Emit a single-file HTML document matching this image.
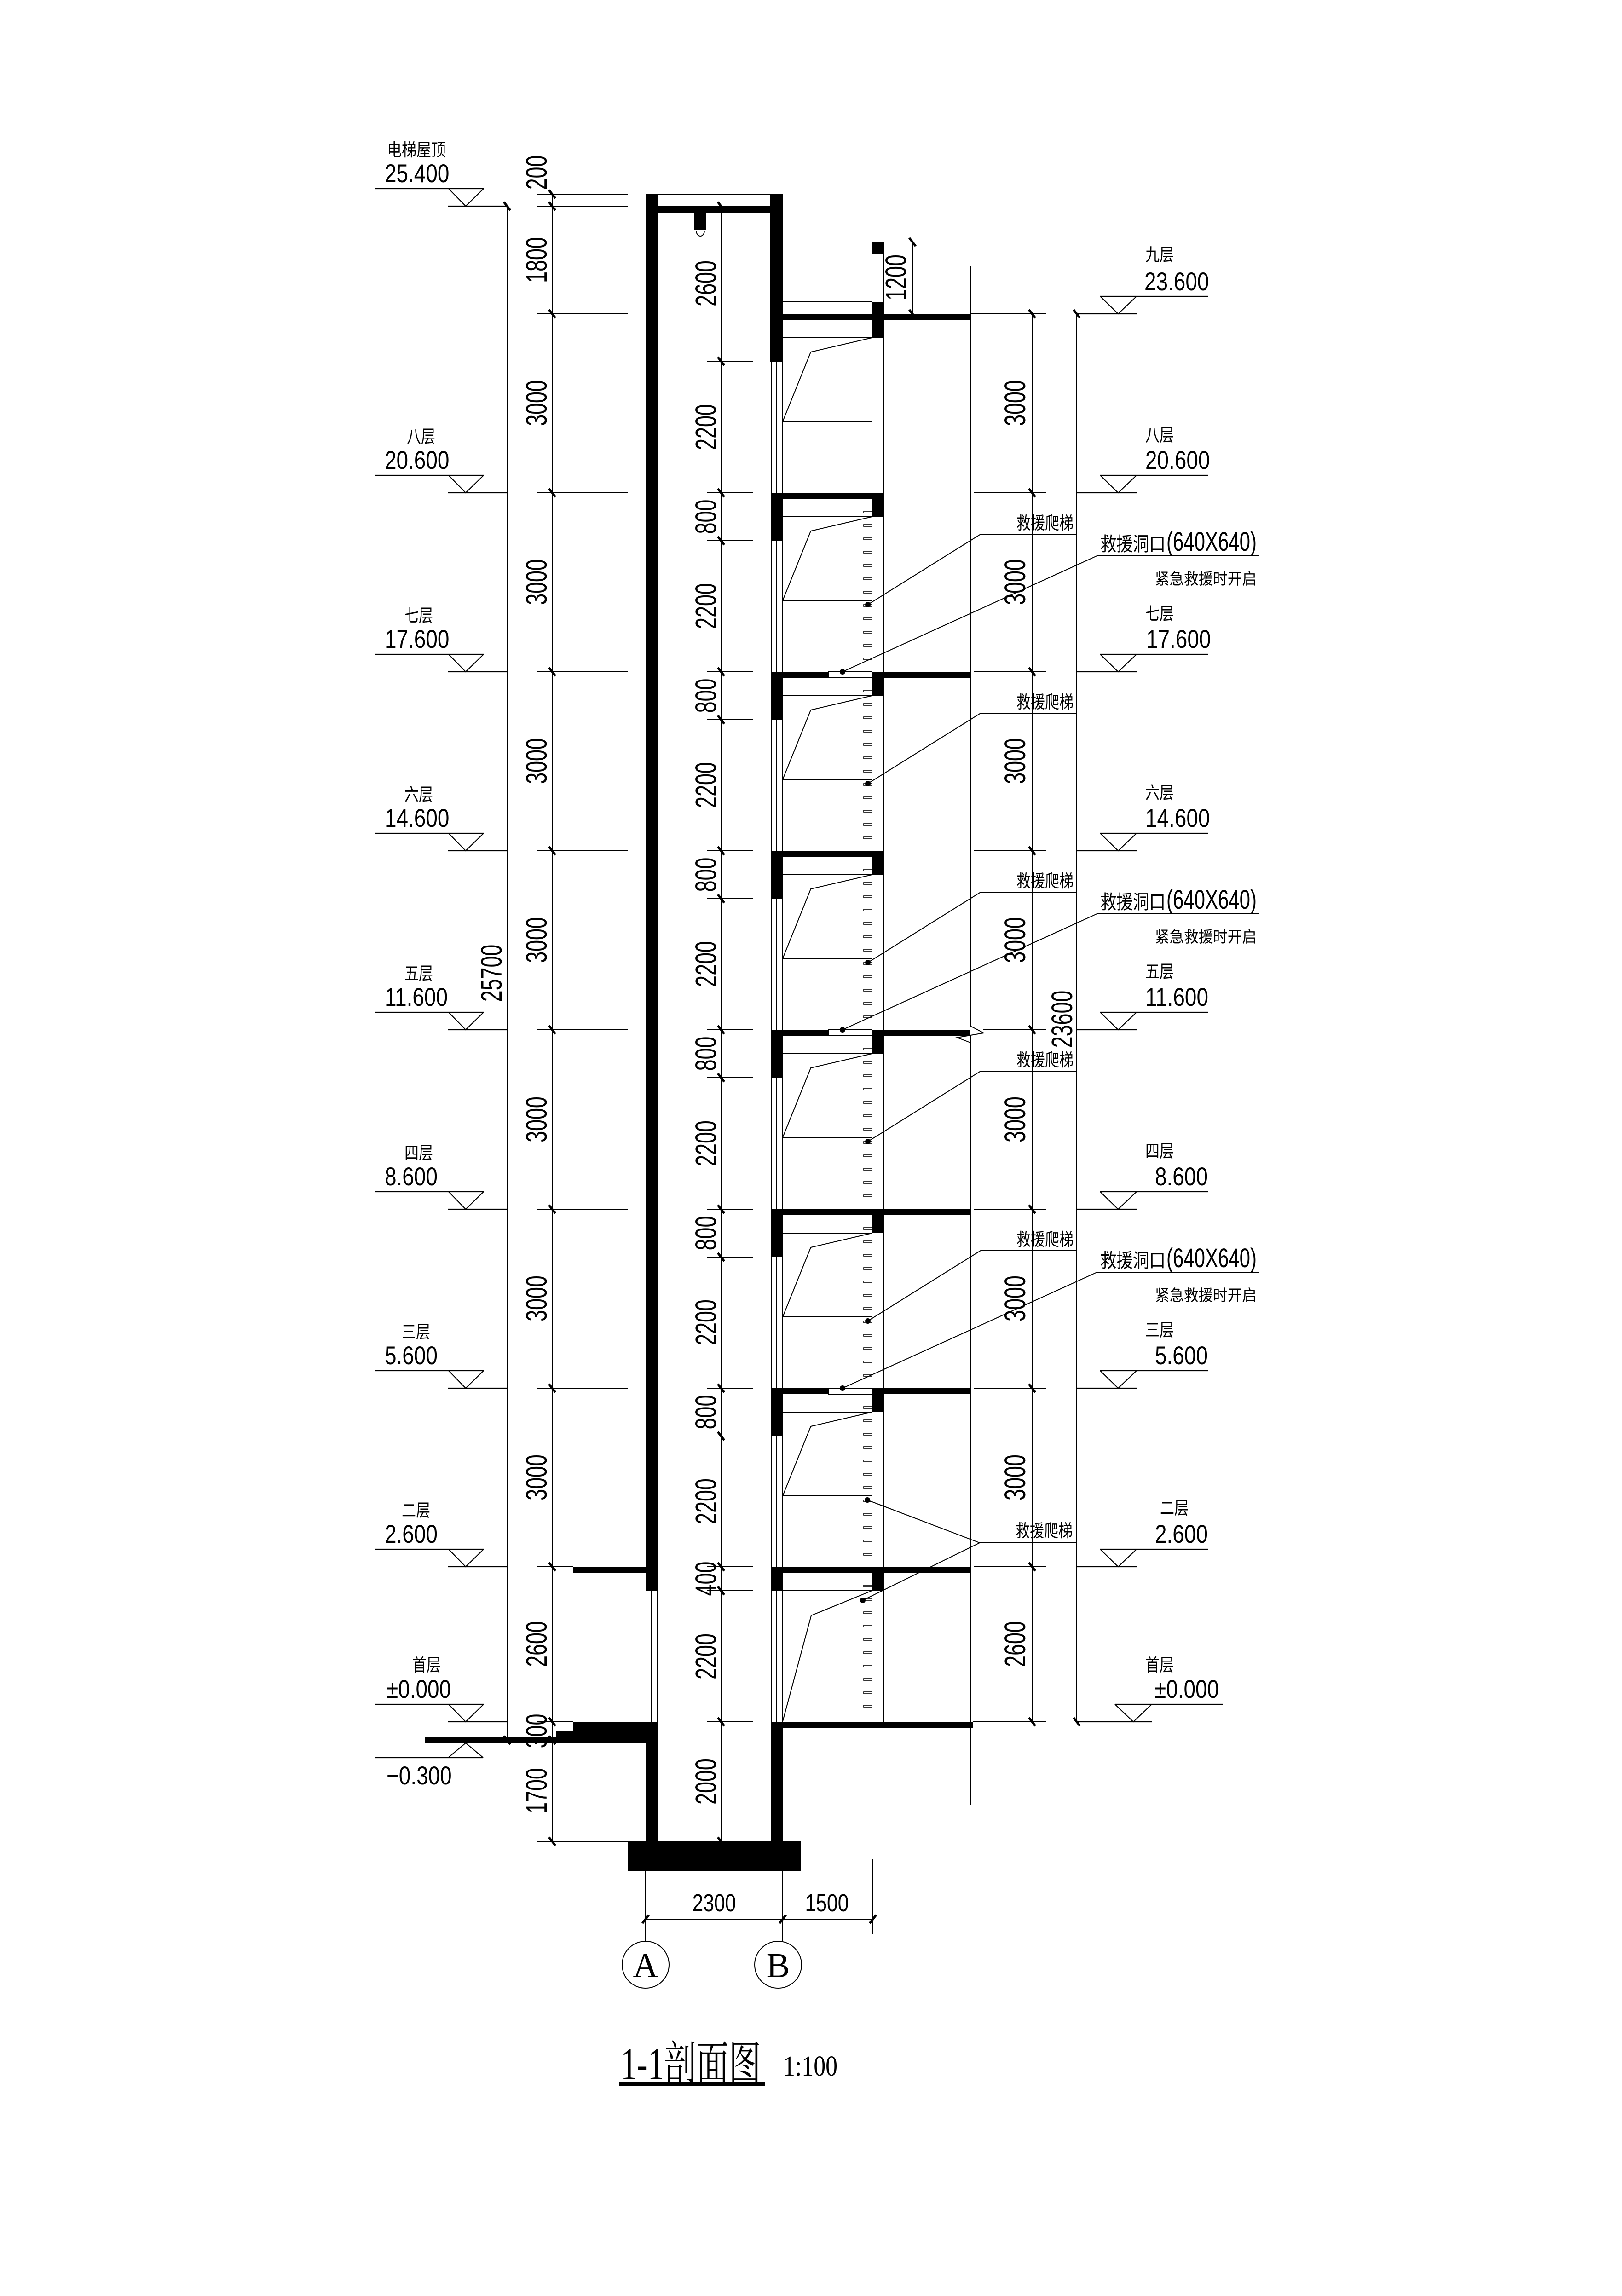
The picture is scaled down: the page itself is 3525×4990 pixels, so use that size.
<!DOCTYPE html>
<html><head><meta charset="utf-8"><style>html,body{margin:0;padding:0;background:#fff}svg{display:block}</style></head><body>
<svg width="3525" height="4990" viewBox="0 0 3525 4990" xmlns="http://www.w3.org/2000/svg">
<rect width="3525" height="4990" fill="#fff"/>
<defs>
<g id="tv"><line x1="-7" y1="-9" x2="7" y2="9" stroke="#000" stroke-width="5"/></g>
<g id="th"><line x1="-7" y1="9" x2="7" y2="-9" stroke="#000" stroke-width="5"/></g>
<g id="rung"><rect x="1877" y="0" width="18" height="4" fill="none" stroke="#000" stroke-width="1.6"/></g>
<g id="ladder">
<use href="#rung" y="40"/><use href="#rung" y="69"/><use href="#rung" y="98"/><use href="#rung" y="127"/><use href="#rung" y="156"/><use href="#rung" y="185"/><use href="#rung" y="214"/><use href="#rung" y="243"/><use href="#rung" y="272"/><use href="#rung" y="301"/><use href="#rung" y="330"/><use href="#rung" y="359"/>
</g>
<g id="win" fill="none" stroke="#000" stroke-width="2">
<line x1="1701" y1="52" x2="1895" y2="52"/><polyline points="1895,52 1762,83 1701,234"/><line x1="1701" y1="234" x2="1895" y2="234"/>
</g>
<g id="lsym" fill="none" stroke="#000" stroke-width="2.2">
<line x1="816" y1="-38" x2="1051" y2="-38"/><polyline points="975,-38 1012,0 1051,-38"/><line x1="973" y1="0" x2="1102" y2="0"/>
</g>
<g id="rsym" fill="none" stroke="#000" stroke-width="2.2">
<line x1="2391" y1="-38" x2="2626" y2="-38"/><polyline points="2391,-38 2430,0 2470,-38"/><line x1="2340" y1="0" x2="2470" y2="0"/>
</g>
</defs>

<g stroke="#000" stroke-width="2" fill="none">
<line x1="1102" y1="448" x2="1102" y2="3782"/>
<line x1="1200" y1="422" x2="1200" y2="4002"/>
<line x1="1567" y1="448" x2="1567" y2="4002"/>
<line x1="2243" y1="682" x2="2243" y2="3742"/>
<line x1="2340" y1="682" x2="2340" y2="3742"/>
<line x1="1983" y1="526" x2="1983" y2="682"/>
<line x1="1960" y1="526" x2="2013" y2="526"/>
<line x1="1168" y1="422" x2="1364" y2="422"/><line x1="1168" y1="448" x2="1364" y2="448"/>
<line x1="1168" y1="682" x2="1364" y2="682"/><line x1="1168" y1="1071" x2="1364" y2="1071"/>
<line x1="1168" y1="1460" x2="1364" y2="1460"/><line x1="1168" y1="1849" x2="1364" y2="1849"/>
<line x1="1168" y1="2238" x2="1364" y2="2238"/><line x1="1168" y1="2628" x2="1364" y2="2628"/>
<line x1="1168" y1="3017" x2="1364" y2="3017"/><line x1="1168" y1="3405" x2="1246" y2="3405"/>
<line x1="1168" y1="3742" x2="1246" y2="3742"/><line x1="1168" y1="4002" x2="1364" y2="4002"/>
<line x1="1536" y1="448" x2="1636" y2="448"/><line x1="1536" y1="785" x2="1636" y2="785"/>
<line x1="1536" y1="1071" x2="1636" y2="1071"/><line x1="1536" y1="1175" x2="1636" y2="1175"/>
<line x1="1536" y1="1460" x2="1636" y2="1460"/><line x1="1536" y1="1564" x2="1636" y2="1564"/>
<line x1="1536" y1="1849" x2="1636" y2="1849"/><line x1="1536" y1="1953" x2="1636" y2="1953"/>
<line x1="1536" y1="2238" x2="1636" y2="2238"/><line x1="1536" y1="2342" x2="1636" y2="2342"/>
<line x1="1536" y1="2628" x2="1636" y2="2628"/><line x1="1536" y1="2732" x2="1636" y2="2732"/>
<line x1="1536" y1="3017" x2="1636" y2="3017"/><line x1="1536" y1="3121" x2="1636" y2="3121"/>
<line x1="1536" y1="3405" x2="1636" y2="3405"/><line x1="1536" y1="3457" x2="1636" y2="3457"/>
<line x1="1536" y1="3742" x2="1636" y2="3742"/>
<line x1="2109" y1="682" x2="2273" y2="682"/><line x1="2116" y1="1071" x2="2273" y2="1071"/>
<line x1="2116" y1="1460" x2="2273" y2="1460"/><line x1="2116" y1="1849" x2="2273" y2="1849"/>
<line x1="2136" y1="2238" x2="2273" y2="2238"/><line x1="2116" y1="2628" x2="2273" y2="2628"/>
<line x1="2116" y1="3017" x2="2273" y2="3017"/><line x1="2116" y1="3405" x2="2273" y2="3405"/>
<line x1="2114" y1="3742" x2="2273" y2="3742"/>
<line x1="1676" y1="786" x2="1676" y2="3742"/><line x1="1688" y1="786" x2="1688" y2="3742"/><line x1="1701" y1="786" x2="1701" y2="3742"/>
<line x1="1404" y1="3457" x2="1404" y2="3742"/><line x1="1416" y1="3457" x2="1416" y2="3742"/><line x1="1429" y1="3457" x2="1429" y2="3742"/>
<line x1="1429" y1="422" x2="1429" y2="3457"/><line x1="1675" y1="422" x2="1675" y2="786"/>
<line x1="1404" y1="422" x2="1701" y2="422"/>
<path d="M1513,501 a9,12 0 0 0 18,0"/>
<line x1="1895" y1="553" x2="1895" y2="3742"/><line x1="1921" y1="553" x2="1921" y2="3742"/>
<line x1="1701" y1="656" x2="1896" y2="656"/>
<line x1="2109" y1="579" x2="2109" y2="3922"/>
<rect x="1800" y="1460" width="95" height="13"/><rect x="1800" y="2238" width="95" height="13"/><rect x="1800" y="3017" width="95" height="13"/>
<line x1="1403" y1="4067" x2="1403" y2="4219"/><line x1="1701" y1="4067" x2="1701" y2="4219"/>
<line x1="1403" y1="4171" x2="1897" y2="4171"/><line x1="1897" y1="4040" x2="1897" y2="4204"/>
<circle cx="1403" cy="4270" r="51"/><circle cx="1691" cy="4270" r="51"/>
</g>
<polyline points="2109,2230 2138,2245 2080,2255 2109,2266" fill="#fff" stroke="#000" stroke-width="2"/>

<use href="#win" y="682"/><use href="#win" y="1071"/><use href="#win" y="1460"/><use href="#win" y="1849"/><use href="#win" y="2238"/><use href="#win" y="2628"/><use href="#win" y="3017"/>
<g fill="none" stroke="#000" stroke-width="2"><line x1="1701" y1="3457" x2="1895" y2="3457"/><polyline points="1895,3457 1763,3511 1701,3741"/></g>
<use href="#ladder" y="1071"/><use href="#ladder" y="1460"/><use href="#ladder" y="1849"/><use href="#ladder" y="2238"/><use href="#ladder" y="2628"/><use href="#ladder" y="3017"/>
<use href="#rung" y="3445"/><use href="#rung" y="3474"/><use href="#rung" y="3503"/><use href="#rung" y="3532"/><use href="#rung" y="3561"/><use href="#rung" y="3590"/><use href="#rung" y="3619"/><use href="#rung" y="3648"/><use href="#rung" y="3677"/><use href="#rung" y="3706"/>

<g fill="#000">
<rect x="1403" y="422" width="26" height="3035"/>
<rect x="1403" y="3742" width="26" height="260"/>
<rect x="1675" y="422" width="26" height="364"/>
<rect x="1675" y="1071" width="26" height="104"/><rect x="1675" y="1460" width="26" height="104"/><rect x="1675" y="1849" width="26" height="104"/>
<rect x="1675" y="2238" width="26" height="104"/><rect x="1675" y="2628" width="26" height="104"/><rect x="1675" y="3017" width="26" height="104"/>
<rect x="1675" y="3405" width="26" height="52"/>
<rect x="1675" y="3742" width="26" height="260"/>
<rect x="1429" y="448" width="246" height="14"/>
<rect x="1508" y="462" width="27" height="38"/>
<rect x="1364" y="4002" width="377" height="65"/>
<rect x="1246" y="3405" width="157" height="14"/>
<rect x="1246" y="3742" width="157" height="20"/>
<rect x="1208" y="3761" width="195" height="20"/>
<rect x="923" y="3775" width="480" height="13"/>
<rect x="1896" y="526" width="26" height="27"/>
<rect x="1895" y="656" width="26" height="78"/>
<rect x="1701" y="682" width="408" height="13"/>
<rect x="1675" y="1071" width="246" height="13"/><rect x="1895" y="1071" width="26" height="52"/>
<rect x="1675" y="1460" width="125" height="13"/><rect x="1895" y="1460" width="214" height="13"/><rect x="1895" y="1460" width="26" height="52"/>
<rect x="1675" y="1849" width="246" height="13"/><rect x="1895" y="1849" width="26" height="52"/>
<rect x="1675" y="2238" width="125" height="13"/><rect x="1895" y="2238" width="214" height="13"/><rect x="1895" y="2238" width="26" height="52"/>
<rect x="1675" y="2628" width="434" height="13"/><rect x="1895" y="2628" width="26" height="52"/>
<rect x="1675" y="3017" width="125" height="13"/><rect x="1895" y="3017" width="214" height="13"/><rect x="1895" y="3017" width="26" height="52"/>
<rect x="1675" y="3405" width="434" height="13"/><rect x="1895" y="3405" width="26" height="52"/>
<rect x="1675" y="3742" width="439" height="13"/>
<rect x="1345" y="4525" width="317" height="9"/>
<circle cx="1886" cy="1314" r="6"/><circle cx="1886" cy="1703" r="6"/><circle cx="1886" cy="2092" r="6"/><circle cx="1886" cy="2481" r="6"/><circle cx="1886" cy="2871" r="6"/>
<circle cx="1885" cy="3260" r="6"/><circle cx="1875" cy="3478" r="6"/>
<circle cx="1831" cy="1460" r="6"/><circle cx="1831" cy="2238" r="6"/><circle cx="1831" cy="3017" r="6"/>
</g>

<g stroke="#000" stroke-width="2" fill="none">
<polyline points="2340,1161 2131,1161 1886,1314"/>
<polyline points="2340,1550 2131,1550 1886,1703"/>
<polyline points="2340,1939 2131,1939 1886,2092"/>
<polyline points="2340,2328 2131,2328 1886,2481"/>
<polyline points="2340,2718 2131,2718 1886,2871"/>
<polyline points="2341,3353 2129,3353 1885,3260"/><line x1="2129" y1="3353" x2="1875" y2="3478"/>
<polyline points="2737,1208 2384,1208 1831,1460"/>
<polyline points="2737,1986 2384,1986 1831,2238"/>
<polyline points="2737,2765 2384,2765 1831,3017"/>
</g>

<use href="#lsym" y="448"/><use href="#lsym" y="1071"/><use href="#lsym" y="1460"/><use href="#lsym" y="1849"/><use href="#lsym" y="2238"/><use href="#lsym" y="2628"/><use href="#lsym" y="3017"/><use href="#lsym" y="3405"/><use href="#lsym" y="3742"/>
<g fill="none" stroke="#000" stroke-width="2.2"><line x1="816" y1="3820" x2="1050" y2="3820"/><polyline points="974,3820 1012,3788 1050,3820"/></g>
<use href="#rsym" y="682"/><use href="#rsym" y="1071"/><use href="#rsym" y="1460"/><use href="#rsym" y="1849"/><use href="#rsym" y="2238"/><use href="#rsym" y="2628"/><use href="#rsym" y="3017"/><use href="#rsym" y="3405"/>
<g fill="none" stroke="#000" stroke-width="2.2"><line x1="2423" y1="3704" x2="2658" y2="3704"/><polyline points="2423,3704 2463,3742 2503,3704"/><line x1="2340" y1="3742" x2="2503" y2="3742"/></g>

<use href="#tv" x="1102" y="448"/><use href="#tv" x="1102" y="3782"/>
<use href="#tv" x="1200" y="422"/><use href="#tv" x="1200" y="448"/><use href="#tv" x="1200" y="682"/><use href="#tv" x="1200" y="1071"/><use href="#tv" x="1200" y="1460"/><use href="#tv" x="1200" y="1849"/><use href="#tv" x="1200" y="2238"/><use href="#tv" x="1200" y="2628"/><use href="#tv" x="1200" y="3017"/><use href="#tv" x="1200" y="3405"/><use href="#tv" x="1200" y="3742"/><use href="#tv" x="1200" y="3782"/><use href="#tv" x="1200" y="4002"/>
<use href="#tv" x="1567" y="448"/><use href="#tv" x="1567" y="785"/><use href="#tv" x="1567" y="1071"/><use href="#tv" x="1567" y="1175"/><use href="#tv" x="1567" y="1460"/><use href="#tv" x="1567" y="1564"/><use href="#tv" x="1567" y="1849"/><use href="#tv" x="1567" y="1953"/><use href="#tv" x="1567" y="2238"/><use href="#tv" x="1567" y="2342"/><use href="#tv" x="1567" y="2628"/><use href="#tv" x="1567" y="2732"/><use href="#tv" x="1567" y="3017"/><use href="#tv" x="1567" y="3121"/><use href="#tv" x="1567" y="3405"/><use href="#tv" x="1567" y="3457"/><use href="#tv" x="1567" y="3742"/><use href="#tv" x="1567" y="4002"/>
<use href="#tv" x="2243" y="682"/><use href="#tv" x="2243" y="1071"/><use href="#tv" x="2243" y="1460"/><use href="#tv" x="2243" y="1849"/><use href="#tv" x="2243" y="2238"/><use href="#tv" x="2243" y="2628"/><use href="#tv" x="2243" y="3017"/><use href="#tv" x="2243" y="3405"/><use href="#tv" x="2243" y="3742"/>
<use href="#tv" x="2340" y="682"/><use href="#tv" x="2340" y="3742"/>
<use href="#tv" x="1983" y="526"/><use href="#tv" x="1983" y="682"/>
<use href="#th" x="1403" y="4171"/><use href="#th" x="1701" y="4171"/><use href="#th" x="1897" y="4171"/>

<g font-family="Liberation Sans, sans-serif" font-size="64" text-anchor="middle" fill="#000">
<text transform="translate(1090,2115) rotate(-90) scale(0.7,1)">25700</text>
<text transform="translate(1188,375) rotate(-90) scale(0.7,1)">200</text>
<text transform="translate(1188,565) rotate(-90) scale(0.7,1)">1800</text>
<text transform="translate(1188,876) rotate(-90) scale(0.7,1)">3000</text>
<text transform="translate(1188,1265) rotate(-90) scale(0.7,1)">3000</text>
<text transform="translate(1188,1654) rotate(-90) scale(0.7,1)">3000</text>
<text transform="translate(1188,2043) rotate(-90) scale(0.7,1)">3000</text>
<text transform="translate(1188,2433) rotate(-90) scale(0.7,1)">3000</text>
<text transform="translate(1188,2822) rotate(-90) scale(0.7,1)">3000</text>
<text transform="translate(1188,3211) rotate(-90) scale(0.7,1)">3000</text>
<text transform="translate(1188,3573) rotate(-90) scale(0.7,1)">2600</text>
<text transform="translate(1188,3762) rotate(-90) scale(0.7,1)">300</text>
<text transform="translate(1188,3892) rotate(-90) scale(0.7,1)">1700</text>
<text transform="translate(1556,616) rotate(-90) scale(0.7,1)">2600</text>
<text transform="translate(1556,928) rotate(-90) scale(0.7,1)">2200</text>
<text transform="translate(1556,1123) rotate(-90) scale(0.7,1)">800</text>
<text transform="translate(1556,1317) rotate(-90) scale(0.7,1)">2200</text>
<text transform="translate(1556,1512) rotate(-90) scale(0.7,1)">800</text>
<text transform="translate(1556,1706) rotate(-90) scale(0.7,1)">2200</text>
<text transform="translate(1556,1901) rotate(-90) scale(0.7,1)">800</text>
<text transform="translate(1556,2095) rotate(-90) scale(0.7,1)">2200</text>
<text transform="translate(1556,2290) rotate(-90) scale(0.7,1)">800</text>
<text transform="translate(1556,2485) rotate(-90) scale(0.7,1)">2200</text>
<text transform="translate(1556,2680) rotate(-90) scale(0.7,1)">800</text>
<text transform="translate(1556,2874) rotate(-90) scale(0.7,1)">2200</text>
<text transform="translate(1556,3069) rotate(-90) scale(0.7,1)">800</text>
<text transform="translate(1556,3263) rotate(-90) scale(0.7,1)">2200</text>
<text transform="translate(1556,3431) rotate(-90) scale(0.7,1)">400</text>
<text transform="translate(1556,3600) rotate(-90) scale(0.7,1)">2200</text>
<text transform="translate(1556,3872) rotate(-90) scale(0.7,1)">2000</text>
<text transform="translate(2228,876) rotate(-90) scale(0.7,1)">3000</text>
<text transform="translate(2228,1265) rotate(-90) scale(0.7,1)">3000</text>
<text transform="translate(2228,1654) rotate(-90) scale(0.7,1)">3000</text>
<text transform="translate(2228,2043) rotate(-90) scale(0.7,1)">3000</text>
<text transform="translate(2228,2433) rotate(-90) scale(0.7,1)">3000</text>
<text transform="translate(2228,2822) rotate(-90) scale(0.7,1)">3000</text>
<text transform="translate(2228,3211) rotate(-90) scale(0.7,1)">3000</text>
<text transform="translate(2228,3573) rotate(-90) scale(0.7,1)">2600</text>
<text transform="translate(2330,2215) rotate(-90) scale(0.7,1)">23600</text>
<text transform="translate(1969,603) rotate(-90) scale(0.7,1)">1200</text>
<text x="1552" y="4154" font-size="54" textLength="95" lengthAdjust="spacingAndGlyphs">2300</text>
<text x="1797" y="4154" font-size="54" textLength="95" lengthAdjust="spacingAndGlyphs">1500</text>
</g>

<g font-family="Liberation Sans, sans-serif" font-size="56" fill="#000">
<text transform="translate(836,396) scale(0.82,1)">25.400</text>
<text transform="translate(836,1019) scale(0.82,1)">20.600</text>
<text transform="translate(836,1408) scale(0.82,1)">17.600</text>
<text transform="translate(836,1797) scale(0.82,1)">14.600</text>
<text transform="translate(836,2186) scale(0.82,1)">11.600</text>
<text transform="translate(836,2576) scale(0.82,1)">8.600</text>
<text transform="translate(836,2965) scale(0.82,1)">5.600</text>
<text transform="translate(836,3353) scale(0.82,1)">2.600</text>
<text transform="translate(840,3690) scale(0.82,1)">±0.000</text>
<text transform="translate(840,3878) scale(0.82,1)">−0.300</text>
<text transform="translate(2487,631) scale(0.82,1)">23.600</text>
<text transform="translate(2489,1019) scale(0.82,1)">20.600</text>
<text transform="translate(2491,1408) scale(0.82,1)">17.600</text>
<text transform="translate(2489,1797) scale(0.82,1)">14.600</text>
<text transform="translate(2489,2186) scale(0.82,1)">11.600</text>
<text transform="translate(2510,2576) scale(0.82,1)">8.600</text>
<text transform="translate(2510,2965) scale(0.82,1)">5.600</text>
<text transform="translate(2510,3353) scale(0.82,1)">2.600</text>
<text transform="translate(2509,3690) scale(0.82,1)">±0.000</text>
</g>

<g font-family="Liberation Sans, 'Noto Sans CJK SC', sans-serif" font-size="38" fill="#000" text-anchor="middle">
<text x="905" y="339" textLength="128" lengthAdjust="spacingAndGlyphs">电梯屋顶</text>
<text x="915" y="962" textLength="62" lengthAdjust="spacingAndGlyphs">八层</text>
<text x="910" y="1351" textLength="62" lengthAdjust="spacingAndGlyphs">七层</text>
<text x="910" y="1740" textLength="62" lengthAdjust="spacingAndGlyphs">六层</text>
<text x="910" y="2129" textLength="62" lengthAdjust="spacingAndGlyphs">五层</text>
<text x="910" y="2519" textLength="62" lengthAdjust="spacingAndGlyphs">四层</text>
<text x="904" y="2908" textLength="62" lengthAdjust="spacingAndGlyphs">三层</text>
<text x="904" y="3296" textLength="62" lengthAdjust="spacingAndGlyphs">二层</text>
<text x="927" y="3632" textLength="62" lengthAdjust="spacingAndGlyphs">首层</text>
<text x="2520" y="567" textLength="62" lengthAdjust="spacingAndGlyphs">九层</text>
<text x="2520" y="959" textLength="62" lengthAdjust="spacingAndGlyphs">八层</text>
<text x="2520" y="1347" textLength="62" lengthAdjust="spacingAndGlyphs">七层</text>
<text x="2520" y="1736" textLength="62" lengthAdjust="spacingAndGlyphs">六层</text>
<text x="2520" y="2125" textLength="62" lengthAdjust="spacingAndGlyphs">五层</text>
<text x="2520" y="2515" textLength="62" lengthAdjust="spacingAndGlyphs">四层</text>
<text x="2520" y="2904" textLength="62" lengthAdjust="spacingAndGlyphs">三层</text>
<text x="2552" y="3291" textLength="62" lengthAdjust="spacingAndGlyphs">二层</text>
<text x="2520" y="3632" textLength="62" lengthAdjust="spacingAndGlyphs">首层</text>
</g>

<g font-family="Liberation Sans, 'Noto Sans CJK SC', sans-serif" fill="#000">
<text x="2209" y="1150" font-size="38" textLength="124" lengthAdjust="spacingAndGlyphs">救援爬梯</text>
<text x="2209" y="1539" font-size="38" textLength="124" lengthAdjust="spacingAndGlyphs">救援爬梯</text>
<text x="2209" y="1928" font-size="38" textLength="124" lengthAdjust="spacingAndGlyphs">救援爬梯</text>
<text x="2209" y="2317" font-size="38" textLength="124" lengthAdjust="spacingAndGlyphs">救援爬梯</text>
<text x="2209" y="2707" font-size="38" textLength="124" lengthAdjust="spacingAndGlyphs">救援爬梯</text>
<text x="2207" y="3340" font-size="38" textLength="124" lengthAdjust="spacingAndGlyphs">救援爬梯</text>
<text x="2391" y="1197" font-size="42" textLength="142" lengthAdjust="spacingAndGlyphs">救援洞口</text>
<text x="2535" y="1197" font-size="58" textLength="196" lengthAdjust="spacingAndGlyphs">(640X640)</text>
<text x="2391" y="1975" font-size="42" textLength="142" lengthAdjust="spacingAndGlyphs">救援洞口</text>
<text x="2535" y="1975" font-size="58" textLength="196" lengthAdjust="spacingAndGlyphs">(640X640)</text>
<text x="2391" y="2754" font-size="42" textLength="142" lengthAdjust="spacingAndGlyphs">救援洞口</text>
<text x="2535" y="2754" font-size="58" textLength="196" lengthAdjust="spacingAndGlyphs">(640X640)</text>
<text x="2510" y="1270" font-size="34" textLength="221" lengthAdjust="spacingAndGlyphs">紧急救援时开启</text>
<text x="2510" y="2048" font-size="34" textLength="221" lengthAdjust="spacingAndGlyphs">紧急救援时开启</text>
<text x="2510" y="2827" font-size="34" textLength="221" lengthAdjust="spacingAndGlyphs">紧急救援时开启</text>
</g>

<g font-family="Liberation Serif, 'Noto Serif CJK SC', serif" fill="#000">
<text x="1403" y="4297" font-size="76" text-anchor="middle">A</text>
<text x="1691" y="4297" font-size="76" text-anchor="middle">B</text>
<text x="1349" y="4519" font-size="100" textLength="305" lengthAdjust="spacingAndGlyphs">1-1剖面图</text>
<text x="1702" y="4511" font-size="62" textLength="118" lengthAdjust="spacingAndGlyphs">1:100</text>
</g>
</svg>
</body></html>
